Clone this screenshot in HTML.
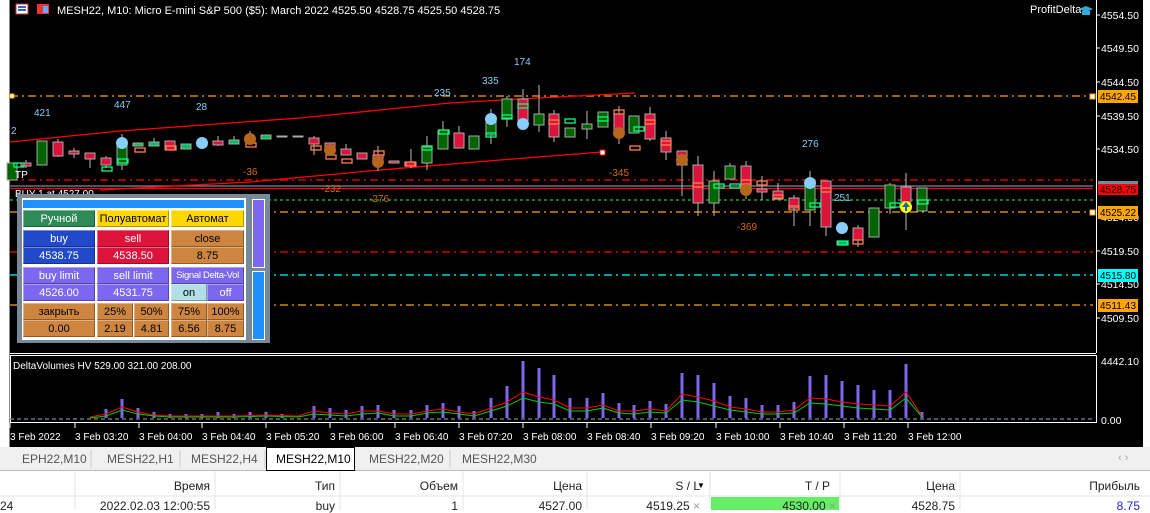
<!DOCTYPE html>
<html><head><meta charset="utf-8"><style>
body{margin:0;width:1150px;height:510px;overflow:hidden;background:#fff;font-family:"Liberation Sans","DejaVu Sans",sans-serif;position:relative}
.abs{position:absolute}
.b{position:absolute;font-size:11px;text-align:center;line-height:16px;box-sizing:border-box;border:1px solid rgba(255,255,255,.35);border-right-color:rgba(0,0,0,.3);border-bottom-color:rgba(0,0,0,.3);white-space:nowrap;overflow:hidden}
.w{color:#fff}.k{color:#000}
.tab{position:absolute;top:452px;font-size:12px;color:#555}
.th{position:absolute;top:479px;font-size:12px;color:#222;text-align:right}
.td{position:absolute;top:499px;font-size:12px;color:#222;text-align:right}
</style></head><body>
<svg class="abs" style="left:0;top:0" width="1150" height="510" xmlns="http://www.w3.org/2000/svg" font-family="Liberation Sans, sans-serif">
<rect x="0" y="0" width="1150" height="447" fill="#000"/>
<rect x="0" y="0" width="9" height="447" fill="#fff"/>
<line x1="9.5" y1="0" x2="9.5" y2="447" stroke="#888"/>
<rect x="1143" y="0" width="7" height="447" fill="#fff"/>
<line x1="1096.5" y1="0" x2="1096.5" y2="353" stroke="#fff"/>
<line x1="10" y1="353.5" x2="1096" y2="353.5" stroke="#fff"/>
<rect x="10.5" y="355.5" width="1086" height="67" fill="none" stroke="#fff"/>
<rect x="16" y="4" width="12" height="10" fill="#fff" stroke="#c33"/><rect x="18" y="6" width="8" height="2" fill="#36c"/><rect x="18" y="9" width="8" height="2" fill="#36c"/>
<rect x="37" y="4" width="12" height="10" fill="#e33"/><rect x="43" y="6" width="5" height="7" fill="#6af"/>
<text x="57" y="14" fill="#fff" font-size="11">MESH22, M10:  Micro E-mini S&amp;P 500 ($5): March 2022  4525.50 4528.75 4525.50 4528.75</text>
<text x="1030" y="13" fill="#fff" font-size="11">ProfitDelta</text>
<path d="M1079 9 L1086 6 L1093 9 L1086 12Z" fill="#3ad"/><rect x="1082" y="11" width="8" height="4" fill="#3ad"/>
<g fill="#fff" font-size="10.5">
<text x="1101" y="19">4554.50</text><text x="1101" y="52">4549.50</text><text x="1101" y="86">4544.50</text><text x="1101" y="120">4539.50</text><text x="1101" y="153">4534.50</text><text x="1101" y="221">4524.50</text><text x="1101" y="255">4519.50</text><text x="1101" y="288">4514.50</text><text x="1101" y="322">4509.50</text><text x="1101" y="365">4442.10</text><text x="1101" y="424">0.00</text>
</g>
<g stroke="#fff"><line x1="1096" y1="15" x2="1100" y2="15"/><line x1="1096" y1="48" x2="1100" y2="48"/><line x1="1096" y1="82" x2="1100" y2="82"/><line x1="1096" y1="116" x2="1100" y2="116"/><line x1="1096" y1="149" x2="1100" y2="149"/><line x1="1096" y1="251" x2="1100" y2="251"/><line x1="1096" y1="284" x2="1100" y2="284"/><line x1="1096" y1="318" x2="1100" y2="318"/></g>
<g fill="none" stroke-width="1.3">
<line x1="10" y1="96" x2="1093" y2="96" stroke="#ffa500" stroke-dasharray="8,4,2,4"/>
<line x1="10" y1="180" x2="1093" y2="180" stroke="#f00" stroke-dasharray="8,4,2,4"/>
<line x1="10" y1="186" x2="1093" y2="186" stroke="#778899"/>
<line x1="10" y1="188.5" x2="1093" y2="188.5" stroke="#f00"/>
<line x1="10" y1="200" x2="1093" y2="200" stroke="#2c2" stroke-dasharray="3,3"/>
<line x1="10" y1="212" x2="1093" y2="212" stroke="#ffa500" stroke-dasharray="8,4,2,4"/>
<line x1="10" y1="252" x2="1093" y2="252" stroke="#f00" stroke-dasharray="8,4,2,4"/>
<line x1="10" y1="275" x2="1093" y2="275" stroke="#0ff" stroke-dasharray="8,4,2,4"/>
<line x1="10" y1="305" x2="1093" y2="305" stroke="#ffa500" stroke-dasharray="8,4,2,4"/>
<line x1="10" y1="419" x2="1093" y2="419" stroke="#789" stroke-dasharray="4,3"/>
<polyline points="10,142 120,131 300,118 450,103 520,99 635,93" stroke="#f00"/>
<polyline points="100,190 250,182 380,170 500,160 602,152" stroke="#f00"/>
</g>
<rect x="10" y="94" width="4" height="4" fill="#fff" stroke="#ffa500"/><rect x="1090" y="94" width="5" height="5" fill="#fff" stroke="#ffa500"/><rect x="1090" y="210" width="5" height="5" fill="#fff" stroke="#ffa500"/><rect x="600" y="150" width="5" height="5" fill="#fff" stroke="#f00"/>
<g font-size="10">
<rect x="1098" y="90" width="40" height="13" fill="#ffa500"/><text x="1100" y="100" textLength="36">4542.45</text>
<rect x="1098" y="181" width="40" height="3" fill="#789"/><rect x="1098" y="184" width="40" height="11" fill="#f00"/><text x="1100" y="193" textLength="36">4528.75</text>
<rect x="1098" y="206" width="40" height="13" fill="#ffa500"/><text x="1100" y="216" textLength="36">4525.22</text>
<rect x="1098" y="269" width="40" height="13" fill="#0ff"/><text x="1100" y="279" textLength="36">4515.80</text>
<rect x="1098" y="299" width="40" height="13" fill="#ffa500"/><text x="1100" y="309" textLength="36">4511.43</text>
</g>
<g stroke="#bbb">
<line x1="26" y1="160" x2="26" y2="168"/><line x1="58" y1="139" x2="58" y2="157"/><line x1="74" y1="148" x2="74" y2="158"/><line x1="90" y1="153" x2="90" y2="168"/><line x1="106" y1="156" x2="106" y2="168"/><line x1="122" y1="134" x2="122" y2="170"/><line x1="154" y1="138" x2="154" y2="146"/><line x1="218" y1="136" x2="218" y2="146"/><line x1="234" y1="136" x2="234" y2="144"/><line x1="250" y1="131" x2="250" y2="142"/><line x1="314" y1="136" x2="314" y2="155"/><line x1="346" y1="144" x2="346" y2="155"/><line x1="378" y1="146" x2="378" y2="171"/><line x1="411" y1="149" x2="411" y2="168"/><line x1="427" y1="136" x2="427" y2="170"/><line x1="443" y1="121" x2="443" y2="149"/><line x1="459" y1="126" x2="459" y2="148"/><line x1="491" y1="109" x2="491" y2="144"/><line x1="507" y1="96" x2="507" y2="127"/><line x1="523" y1="89" x2="523" y2="129"/><line x1="539" y1="85" x2="539" y2="132"/><line x1="554" y1="110" x2="554" y2="142"/><line x1="587" y1="111" x2="587" y2="139"/><line x1="619" y1="106" x2="619" y2="144"/><line x1="650" y1="107" x2="650" y2="141"/><line x1="666" y1="131" x2="666" y2="160"/><line x1="682" y1="151" x2="682" y2="196"/><line x1="698" y1="156" x2="698" y2="216"/><line x1="714" y1="171" x2="714" y2="216"/><line x1="730" y1="163" x2="730" y2="179"/><line x1="746" y1="161" x2="746" y2="199"/><line x1="762" y1="176" x2="762" y2="200"/><line x1="778" y1="183" x2="778" y2="198"/><line x1="794" y1="195" x2="794" y2="226"/><line x1="810" y1="171" x2="810" y2="226"/><line x1="826" y1="181" x2="826" y2="236"/><line x1="858" y1="225" x2="858" y2="247"/><line x1="890" y1="183" x2="890" y2="214"/><line x1="906" y1="173" x2="906" y2="230"/>
</g>
<g stroke="#aaa">
<rect x="7" y="163" width="10" height="17" fill="#006400"/>
<rect x="21" y="163" width="10" height="3" fill="#dc143c"/>
<rect x="37" y="141" width="10" height="24" fill="#006400"/>
<rect x="53" y="142" width="10" height="14" fill="#dc143c"/>
<rect x="69" y="151" width="10" height="3" fill="#dc143c"/>
<rect x="85" y="153" width="10" height="6" fill="#dc143c"/>
<rect x="101" y="158" width="10" height="7" fill="#dc143c"/>
<rect x="117" y="143" width="10" height="22" fill="#006400"/>
<rect x="133" y="143" width="10" height="3" fill="#00c060"/>
<rect x="149" y="142" width="10" height="4" fill="#00c060"/>
<rect x="165" y="141" width="10" height="9" fill="#dc143c"/>
<rect x="181" y="144" width="10" height="5" fill="#00c060"/>
<rect x="197" y="142" width="10" height="4" fill="#dc143c"/>
<rect x="213" y="141" width="10" height="4" fill="#dc143c"/>
<rect x="229" y="140" width="10" height="4" fill="#00c060"/>
<rect x="245" y="139" width="10" height="3" fill="#dc143c"/>
<rect x="261" y="135" width="10" height="4" fill="#00c060"/>
<rect x="277" y="136" width="10" height="1" fill="#888"/>
<rect x="293" y="136" width="10" height="1" fill="#888"/>
<rect x="309" y="138" width="10" height="6" fill="#dc143c"/>
<rect x="325" y="143" width="10" height="7" fill="#dc143c"/>
<rect x="341" y="149" width="10" height="6" fill="#dc143c"/>
<rect x="357" y="153" width="10" height="6" fill="#dc143c"/>
<rect x="373" y="155" width="10" height="5" fill="#dc143c"/>
<rect x="389" y="161" width="10" height="2" fill="#dc143c"/>
<rect x="406" y="162" width="10" height="4" fill="#dc143c"/>
<rect x="422" y="147" width="10" height="16" fill="#006400"/>
<rect x="438" y="130" width="10" height="19" fill="#006400"/>
<rect x="454" y="133" width="10" height="15" fill="#dc143c"/>
<rect x="469" y="136" width="10" height="13" fill="#006400"/>
<rect x="486" y="118" width="10" height="17" fill="#006400"/>
<rect x="502" y="99" width="10" height="19" fill="#006400"/>
<rect x="518" y="99" width="10" height="25" fill="#dc143c"/>
<rect x="534" y="114" width="10" height="11" fill="#006400"/>
<rect x="549" y="114" width="10" height="23" fill="#dc143c"/>
<rect x="565" y="128" width="10" height="9" fill="#006400"/>
<rect x="582" y="124" width="10" height="5" fill="#006400"/>
<rect x="598" y="112" width="10" height="15" fill="#006400"/>
<rect x="614" y="114" width="10" height="19" fill="#dc143c"/>
<rect x="629" y="116" width="10" height="17" fill="#006400"/>
<rect x="645" y="114" width="10" height="25" fill="#dc143c"/>
<rect x="661" y="138" width="10" height="14" fill="#dc143c"/>
<rect x="677" y="151" width="10" height="14" fill="#dc143c"/>
<rect x="693" y="165" width="10" height="38" fill="#dc143c"/>
<rect x="709" y="181" width="10" height="22" fill="#006400"/>
<rect x="725" y="166" width="10" height="13" fill="#006400"/>
<rect x="741" y="166" width="10" height="25" fill="#dc143c"/>
<rect x="757" y="189" width="10" height="3" fill="#dc143c"/>
<rect x="773" y="191" width="10" height="7" fill="#dc143c"/>
<rect x="789" y="198" width="10" height="10" fill="#dc143c"/>
<rect x="805" y="183" width="10" height="27" fill="#006400"/>
<rect x="821" y="181" width="10" height="46" fill="#dc143c"/>
<rect x="837" y="241" width="10" height="4" fill="#00c060"/>
<rect x="853" y="228" width="10" height="12" fill="#dc143c"/>
<rect x="869" y="208" width="10" height="29" fill="#006400"/>
<rect x="885" y="185" width="10" height="23" fill="#006400"/>
<rect x="901" y="187" width="10" height="15" fill="#dc143c"/>
<rect x="917" y="188" width="10" height="23" fill="#006400"/>
</g>
<g fill="none" stroke-width="1.3">
<g stroke="#ff7f50"><rect x="135" y="148" width="10" height="4"/><rect x="166" y="146" width="10" height="4"/><rect x="246" y="143" width="10" height="4"/><rect x="311" y="146" width="10" height="4"/><rect x="326" y="155" width="10" height="4"/><rect x="342" y="159" width="10" height="4"/><rect x="374" y="151" width="10" height="4"/><rect x="405" y="162" width="10" height="4"/><rect x="549" y="120" width="10" height="4"/><rect x="614" y="110" width="10" height="4"/><rect x="630" y="146" width="10" height="4"/><rect x="645" y="120" width="10" height="4"/><rect x="661" y="141" width="10" height="4"/><rect x="693" y="183" width="10" height="4"/><rect x="741" y="180" width="10" height="4"/><rect x="757" y="181" width="10" height="4"/><rect x="773" y="195" width="10" height="4"/><rect x="789" y="206" width="10" height="4"/><rect x="821" y="188" width="10" height="4"/><rect x="853" y="240" width="10" height="4"/></g>
<g stroke="#00ff7f"><rect x="14" y="163" width="10" height="4"/><rect x="102" y="167" width="10" height="4"/><rect x="118" y="159" width="10" height="4"/><rect x="422" y="146" width="10" height="4"/><rect x="439" y="130" width="10" height="4"/><rect x="486" y="133" width="10" height="4"/><rect x="502" y="115" width="10" height="4"/><rect x="518" y="104" width="10" height="4"/><rect x="565" y="119" width="10" height="4"/><rect x="598" y="117" width="10" height="4"/><rect x="634" y="127" width="10" height="4"/><rect x="714" y="184" width="10" height="4"/><rect x="730" y="184" width="10" height="4"/><rect x="810" y="203" width="10" height="4"/><rect x="838" y="241" width="10" height="4"/><rect x="890" y="203" width="10" height="4"/><rect x="918" y="200" width="10" height="4"/></g>
</g>
<g fill="#87cefa"><circle cx="122" cy="143" r="6"/><circle cx="202" cy="143" r="6"/><circle cx="491" cy="119" r="6"/><circle cx="523" cy="124" r="6"/><circle cx="810" cy="183" r="6"/><circle cx="842" cy="228" r="6"/></g>
<g fill="#b5651d"><circle cx="250" cy="139" r="6"/><circle cx="330" cy="150" r="6"/><circle cx="378" cy="162" r="6"/><circle cx="619" cy="133" r="6"/><circle cx="682" cy="160" r="6"/><circle cx="746" cy="190" r="6"/></g>
<circle cx="906" cy="207" r="6" fill="#ff0"/><path d="M906 202 L910 207 H907 V211 H905 V207 H902Z" fill="#1560bd"/>
<g fill="#87cefa" font-size="10"><text x="34" y="116">421</text><text x="114" y="108">447</text><text x="196" y="110">28</text><text x="434" y="96">235</text><text x="482" y="84">335</text><text x="514" y="65">174</text><text x="802" y="147">276</text><text x="834" y="201">251</text><text x="11" y="134">2</text></g>
<g fill="#d2691e" font-size="10"><text x="243" y="175">-36</text><text x="321" y="192">-232</text><text x="369" y="202">-276</text><text x="609" y="176">-345</text><text x="737" y="230">-369</text></g>
<text x="15" y="178" fill="#fff" font-size="10">TP</text>
<text x="15" y="197" fill="#fff" font-size="10">BUY 1 at 4527.00</text>
<text x="13" y="369" fill="#fff" font-size="10">DeltaVolumes HV 529.00 321.00 208.00</text>
<g stroke="#7b68ee" stroke-width="3">
<line x1="106" y1="418" x2="106" y2="409"/><line x1="122" y1="418" x2="122" y2="399"/><line x1="138" y1="418" x2="138" y2="408"/><line x1="154" y1="418" x2="154" y2="412"/><line x1="170" y1="418" x2="170" y2="414"/><line x1="186" y1="418" x2="186" y2="414"/><line x1="202" y1="418" x2="202" y2="414"/><line x1="218" y1="418" x2="218" y2="412"/><line x1="234" y1="418" x2="234" y2="414"/><line x1="250" y1="418" x2="250" y2="412"/><line x1="266" y1="418" x2="266" y2="412"/><line x1="282" y1="418" x2="282" y2="414"/><line x1="314" y1="418" x2="314" y2="406"/><line x1="330" y1="418" x2="330" y2="408"/><line x1="346" y1="418" x2="346" y2="410"/><line x1="362" y1="418" x2="362" y2="406"/><line x1="378" y1="418" x2="378" y2="405"/><line x1="394" y1="418" x2="394" y2="410"/><line x1="411" y1="418" x2="411" y2="410"/><line x1="427" y1="418" x2="427" y2="405"/><line x1="443" y1="418" x2="443" y2="403"/><line x1="459" y1="418" x2="459" y2="406"/><line x1="474" y1="418" x2="474" y2="411"/><line x1="491" y1="418" x2="491" y2="398"/><line x1="507" y1="418" x2="507" y2="386"/><line x1="523" y1="418" x2="523" y2="361"/><line x1="539" y1="418" x2="539" y2="368"/><line x1="554" y1="418" x2="554" y2="375"/><line x1="570" y1="418" x2="570" y2="398"/><line x1="587" y1="418" x2="587" y2="398"/><line x1="603" y1="418" x2="603" y2="393"/><line x1="619" y1="418" x2="619" y2="403"/><line x1="634" y1="418" x2="634" y2="405"/><line x1="650" y1="418" x2="650" y2="401"/><line x1="666" y1="418" x2="666" y2="404"/><line x1="682" y1="418" x2="682" y2="373"/><line x1="698" y1="418" x2="698" y2="375"/><line x1="714" y1="418" x2="714" y2="383"/><line x1="730" y1="418" x2="730" y2="396"/><line x1="746" y1="418" x2="746" y2="398"/><line x1="762" y1="418" x2="762" y2="405"/><line x1="778" y1="418" x2="778" y2="405"/><line x1="794" y1="418" x2="794" y2="402"/><line x1="810" y1="418" x2="810" y2="376"/><line x1="826" y1="418" x2="826" y2="375"/><line x1="842" y1="418" x2="842" y2="381"/><line x1="858" y1="418" x2="858" y2="385"/><line x1="874" y1="418" x2="874" y2="390"/><line x1="890" y1="418" x2="890" y2="390"/><line x1="906" y1="418" x2="906" y2="364"/><line x1="922" y1="418" x2="922" y2="412"/>
</g>
<polyline fill="none" stroke="#f00" stroke-width="1" points="90,417 106,414 122,407 138,412 154,415 170,416 202,416 234,416 266,415 298,416 314,411 330,413 346,414 362,411 378,411 394,414 411,414 427,411 443,409 459,412 474,414 491,408 507,402 523,392 539,397 554,400 570,408 587,408 603,405 619,411 634,411 650,409 666,411 682,394 698,397 714,401 730,407 746,409 762,412 778,412 794,410 810,398 826,399 842,402 858,404 874,405 890,406 906,392 922,416"/>
<polyline fill="none" stroke="#0c0" stroke-width="1" points="90,418 106,416 122,410 138,414 154,416 170,417 202,417 234,417 266,416 298,417 314,414 330,415 346,416 362,414 378,413 394,416 411,416 427,413 443,412 459,414 474,416 491,411 507,406 523,398 539,402 554,404 570,411 587,411 603,408 619,413 634,414 650,412 666,413 682,400 698,402 714,406 730,410 746,412 762,414 778,414 794,413 810,403 826,404 842,406 858,408 874,409 890,410 906,398 922,417"/>
<g fill="#fff" font-size="10"><text x="10" y="440">3 Feb 2022</text><text x="75" y="440">3 Feb 03:20</text><text x="139" y="440">3 Feb 04:00</text><text x="202" y="440">3 Feb 04:40</text><text x="266" y="440">3 Feb 05:20</text><text x="330" y="440">3 Feb 06:00</text><text x="395" y="440">3 Feb 06:40</text><text x="459" y="440">3 Feb 07:20</text><text x="523" y="440">3 Feb 08:00</text><text x="587" y="440">3 Feb 08:40</text><text x="651" y="440">3 Feb 09:20</text><text x="716" y="440">3 Feb 10:00</text><text x="780" y="440">3 Feb 10:40</text><text x="844" y="440">3 Feb 11:20</text><text x="908" y="440">3 Feb 12:00</text></g>
<g stroke="#fff"><line x1="10" y1="423" x2="10" y2="428"/><line x1="75" y1="423" x2="75" y2="428"/><line x1="139" y1="423" x2="139" y2="428"/><line x1="202" y1="423" x2="202" y2="428"/><line x1="266" y1="423" x2="266" y2="428"/><line x1="330" y1="423" x2="330" y2="428"/><line x1="395" y1="423" x2="395" y2="428"/><line x1="459" y1="423" x2="459" y2="428"/><line x1="523" y1="423" x2="523" y2="428"/><line x1="587" y1="423" x2="587" y2="428"/><line x1="651" y1="423" x2="651" y2="428"/><line x1="716" y1="423" x2="716" y2="428"/><line x1="780" y1="423" x2="780" y2="428"/><line x1="844" y1="423" x2="844" y2="428"/><line x1="908" y1="423" x2="908" y2="428"/></g>
<rect x="0" y="447" width="1150" height="24" fill="#f0f0f0"/>
<line x1="0" y1="470.5" x2="1150" y2="470.5" stroke="#bbb"/>
<rect x="266.5" y="447.5" width="88" height="23" fill="#fff" stroke="#000"/>
<g stroke="#ccc"><line x1="91" y1="450" x2="91" y2="468"/><line x1="180" y1="450" x2="180" y2="468"/><line x1="265" y1="450" x2="265" y2="468"/><line x1="450" y1="450" x2="450" y2="468"/></g>
<g stroke="#e4e4e4"><line x1="75" y1="471" x2="75" y2="510"/><line x1="215" y1="471" x2="215" y2="510"/><line x1="340" y1="471" x2="340" y2="510"/><line x1="463" y1="471" x2="463" y2="510"/><line x1="587" y1="471" x2="587" y2="510"/><line x1="710" y1="471" x2="710" y2="510"/><line x1="840" y1="471" x2="840" y2="510"/><line x1="960" y1="471" x2="960" y2="510"/><line x1="0" y1="496" x2="1150" y2="496"/></g>
<rect x="711" y="497" width="128" height="13" fill="#66ee66"/>
</svg>
<div class="tab" style="left:22px">EPH22,M10</div>
<div class="tab" style="left:107px">MESH22,H1</div>
<div class="tab" style="left:191px">MESH22,H4</div>
<div class="tab" style="left:276px;color:#000">MESH22,M10</div>
<div class="tab" style="left:369px">MESH22,M20</div>
<div class="tab" style="left:462px">MESH22,M30</div>
<div class="abs" style="left:1118px;top:452px;font-size:11px;color:#aaa">‹ ›</div>
<div class="th" style="right:940px">Время</div>
<div class="th" style="right:815px">Тип</div>
<div class="th" style="right:692px">Объем</div>
<div class="th" style="right:568px">Цена</div>
<div class="th" style="right:450px">S / L</div>
<div class="abs" style="left:697px;top:481px;font-size:8px">▼</div>
<div class="th" style="right:320px">T / P</div>
<div class="th" style="right:195px">Цена</div>
<div class="th" style="right:10px">Прибыль</div>
<div class="td" style="left:0">24</div>
<div class="td" style="right:940px">2022.02.03 12:00:55</div>
<div class="td" style="right:815px">buy</div>
<div class="td" style="right:692px">1</div>
<div class="td" style="right:568px">4527.00</div>
<div class="td" style="right:450px">4519.25 <span style="color:#999">×</span></div>
<div class="td" style="right:314px">4530.00 <span style="color:#999">×</span></div>
<div class="td" style="right:195px">4528.75</div>
<div class="td" style="right:10px;color:#22c">8.75</div>
<div class="abs" style="left:17px;top:194px;width:253px;height:149px;background:#778899"></div>
<div class="abs" style="left:22px;top:198px;width:224px;height:142px;background:#fff"></div>
<div class="abs" style="left:23px;top:200px;width:221px;height:8px;background:#1e90ff"></div>
<div class="abs" style="left:252px;top:199px;width:13px;height:69px;background:#7b68ee;border:1px solid #fff;box-sizing:border-box"></div>
<div class="abs" style="left:252px;top:271px;width:13px;height:69px;background:#1e90ff;border:1px solid #fff;box-sizing:border-box"></div>
<div class="b w" style="left:23px;top:210px;width:72px;height:17px;background:#2e8b57">Ручной</div>
<div class="b k" style="left:97px;top:210px;width:72px;height:17px;background:#ffd700">Полуавтомат</div>
<div class="b k" style="left:171px;top:210px;width:73px;height:17px;background:#ffd700">Автомат</div>
<div class="b w" style="left:23px;top:230px;width:72px;height:17px;background:#2249c8">buy</div>
<div class="b w" style="left:97px;top:230px;width:72px;height:17px;background:#dc143c">sell</div>
<div class="b k" style="left:171px;top:230px;width:73px;height:17px;background:#cd853f">close</div>
<div class="b w" style="left:23px;top:247px;width:72px;height:17px;background:#2249c8">4538.75</div>
<div class="b w" style="left:97px;top:247px;width:72px;height:17px;background:#dc143c">4538.50</div>
<div class="b k" style="left:171px;top:247px;width:73px;height:17px;background:#cd853f">8.75</div>
<div class="b w" style="left:23px;top:267px;width:72px;height:17px;background:#7b68ee">buy limit</div>
<div class="b w" style="left:97px;top:267px;width:72px;height:17px;background:#7b68ee">sell limit</div>
<div class="b w" style="left:171px;top:267px;width:73px;height:17px;background:#7b68ee;font-size:9.5px;letter-spacing:-0.3px">Signal Delta-Vol</div>
<div class="b w" style="left:23px;top:284px;width:72px;height:17px;background:#7b68ee">4526.00</div>
<div class="b w" style="left:97px;top:284px;width:72px;height:17px;background:#7b68ee">4531.75</div>
<div class="b k" style="left:171px;top:284px;width:36px;height:17px;background:#b0e0e6">on</div>
<div class="b w" style="left:207px;top:284px;width:37px;height:17px;background:#7b68ee">off</div>
<div class="b k" style="left:23px;top:303px;width:72px;height:17px;background:#cd853f">закрыть</div>
<div class="b k" style="left:97px;top:303px;width:36px;height:17px;background:#cd853f">25%</div>
<div class="b k" style="left:134px;top:303px;width:35px;height:17px;background:#cd853f">50%</div>
<div class="b k" style="left:171px;top:303px;width:36px;height:17px;background:#cd853f">75%</div>
<div class="b k" style="left:207px;top:303px;width:37px;height:17px;background:#cd853f">100%</div>
<div class="b k" style="left:23px;top:320px;width:72px;height:17px;background:#cd853f">0.00</div>
<div class="b k" style="left:97px;top:320px;width:36px;height:17px;background:#cd853f">2.19</div>
<div class="b k" style="left:134px;top:320px;width:35px;height:17px;background:#cd853f">4.81</div>
<div class="b k" style="left:171px;top:320px;width:36px;height:17px;background:#cd853f">6.56</div>
<div class="b k" style="left:207px;top:320px;width:37px;height:17px;background:#cd853f">8.75</div>
</body></html>
